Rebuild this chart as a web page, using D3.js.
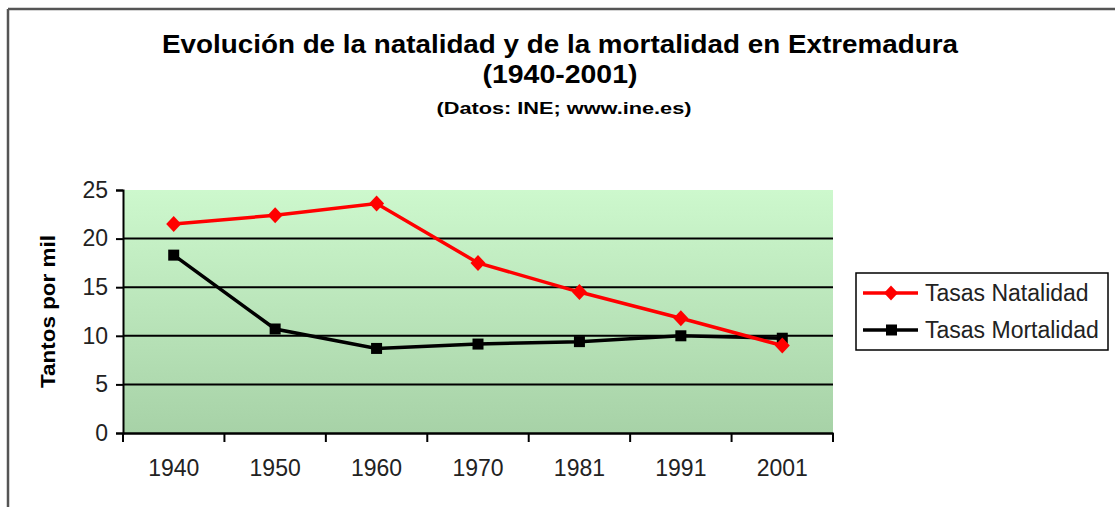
<!DOCTYPE html>
<html><head><meta charset="utf-8">
<script src="https://cdn.jsdelivr.net/npm/d3@7"></script>
<style>
html,body{margin:0;padding:0;background:#fff;}
svg{display:block;}
text{font-family:"Liberation Sans",Arial,sans-serif;}
</style></head>
<body>
<svg id="chart" width="1115" height="507"></svg>
<script>
const years = ["1940","1950","1960","1970","1981","1991","2001"];
const natalidad = [21.5, 22.4, 23.6, 17.5, 14.5, 11.8, 9.0];
const mortalidad = [18.3, 10.7, 8.7, 9.15, 9.4, 10.0, 9.75];
const yTicks = [0, 5, 10, 15, 20, 25];
const seriesNames = ["Tasas Natalidad", "Tasas Mortalidad"];
const titleLines = ["Evolución de la natalidad y de la mortalidad en Extremadura", "(1940-2001)", "(Datos: INE; www.ine.es)"];
const yTitle = "Tantos por mil";

const svg = d3.select("#chart");
const L = 123, R = 833, T = 190, B = 433;

const defs = svg.append("defs");
const grad = defs.append("linearGradient").attr("id","bg").attr("x1",0).attr("y1",0).attr("x2",0).attr("y2",1);
grad.append("stop").attr("offset","0%").attr("stop-color","#cdf8cd");
grad.append("stop").attr("offset","100%").attr("stop-color","#a7d2a7");

// outer frame
svg.append("line").attr("x1",8).attr("x2",1115).attr("y1",9).attr("y2",9).attr("stroke","#555").attr("stroke-width",2.5);
svg.append("line").attr("x1",8).attr("x2",8).attr("y1",9).attr("y2",507).attr("stroke","#555").attr("stroke-width",2.5);

// titles
const tl = [
  {t:titleLines[0], y:53, fs:26, w:796, x:560},
  {t:titleLines[1], y:83, fs:25, w:155, x:560},
  {t:titleLines[2], y:114, fs:16, w:255, x:564}
];
tl.forEach(d=>{
  svg.append("text").text(d.t).attr("x",d.x).attr("y",d.y).attr("text-anchor","middle")
    .attr("font-size",d.fs).attr("font-weight","bold").attr("fill","#000")
    .attr("textLength",d.w).attr("lengthAdjust","spacingAndGlyphs");
});

const x = d3.scaleBand().domain(years).range([L,R]).paddingInner(0).paddingOuter(0);
const y = d3.scaleLinear().domain([0,25]).range([B,T]);

svg.append("rect").attr("x",L).attr("y",T).attr("width",R-L).attr("height",B-T).attr("fill","url(#bg)");

// gridlines
svg.append("g").selectAll("line").data(yTicks.filter(v=>v>0 && v<25)).join("line")
  .attr("x1",L).attr("x2",R).attr("y1",d=>y(d)).attr("y2",d=>y(d))
  .attr("stroke","#000").attr("stroke-width",2);

// y axis
const ya = svg.append("g").attr("transform",`translate(${L},0)`)
  .call(d3.axisLeft(y).tickValues(yTicks).tickSize(7).tickPadding(8).tickFormat(d3.format("d")));
ya.select(".domain").attr("stroke","#000").attr("stroke-width",2);
ya.selectAll(".tick line").attr("stroke","#000").attr("stroke-width",2);
ya.selectAll("text").attr("font-size",23).attr("fill","#222").attr("font-family","Liberation Sans, Arial, sans-serif");

// x axis
const xa = svg.append("g").attr("transform",`translate(0,${B})`)
  .call(d3.axisBottom(x).tickSize(0).tickPadding(27));
xa.select(".domain").attr("stroke","#000").attr("stroke-width",2.5);
xa.selectAll("text").attr("font-size",23).attr("fill","#222").attr("font-family","Liberation Sans, Arial, sans-serif");
const bounds = years.map(d=>x(d)).concat([R]);
svg.append("g").selectAll("line").data(bounds).join("line")
  .attr("x1",d=>d).attr("x2",d=>d).attr("y1",B).attr("y2",B+9)
  .attr("stroke","#000").attr("stroke-width",2);

// y title
svg.append("text").text(yTitle).attr("transform",`translate(55,${(T+B)/2}) rotate(-90)`)
  .attr("text-anchor","middle").attr("font-size",21).attr("font-weight","bold").attr("fill","#000")
  .attr("textLength",153).attr("lengthAdjust","spacingAndGlyphs");

const cx = d => x(d) + x.bandwidth()/2;
const line = d3.line().x((d,i)=>cx(years[i])).y(d=>y(d));

// mortalidad
svg.append("path").datum(mortalidad).attr("d",line).attr("fill","none").attr("stroke","#000").attr("stroke-width",3.5);
svg.append("g").selectAll("rect").data(mortalidad).join("rect")
  .attr("x",(d,i)=>cx(years[i])-5.5).attr("y",d=>y(d)-5.5).attr("width",11).attr("height",11).attr("fill","#000");

// natalidad
svg.append("path").datum(natalidad).attr("d",line).attr("fill","none").attr("stroke","#ff0000").attr("stroke-width",3.5);
svg.append("g").selectAll("path").data(natalidad).join("path")
  .attr("d","M0,-8L7.5,0L0,8L-7.5,0Z")
  .attr("transform",(d,i)=>`translate(${cx(years[i])},${y(d)})`).attr("fill","#ff0000");

// legend
const lg = svg.append("g");
lg.append("rect").attr("x",856).attr("y",273).attr("width",252).attr("height",77)
  .attr("fill","#fff").attr("stroke","#000").attr("stroke-width",1.5);
const lgy = [293, 330];
const cols = ["#ff0000","#000"];
seriesNames.forEach((n,i)=>{
  lg.append("line").attr("x1",863).attr("x2",918).attr("y1",lgy[i]).attr("y2",lgy[i]).attr("stroke",cols[i]).attr("stroke-width",3.5);
  if(i===0){
    lg.append("path").attr("d","M0,-7.5L7,0L0,7.5L-7,0Z").attr("transform",`translate(891,${lgy[i]})`).attr("fill",cols[i]);
  } else {
    lg.append("rect").attr("x",886).attr("y",lgy[i]-5.5).attr("width",11).attr("height",11).attr("fill",cols[i]);
  }
  lg.append("text").text(n).attr("x",925).attr("y",lgy[i]+8).attr("font-size",23).attr("fill","#222");
});
</script>
</body></html>
